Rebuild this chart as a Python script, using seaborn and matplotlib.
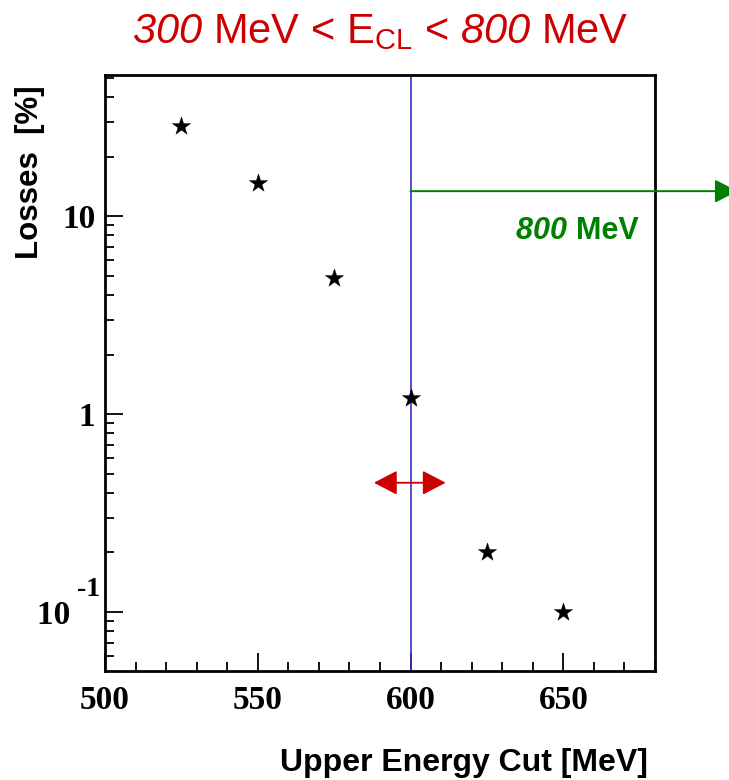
import matplotlib
matplotlib.use("Agg")
import matplotlib.pyplot as plt
from matplotlib.ticker import LogLocator, NullFormatter, FixedLocator, MultipleLocator
import seaborn as sns
import pandas as pd

# Loss fraction versus the upper energy cut
cut_mev = [525, 550, 575, 600, 625, 650]
losses_pct = [28.5, 14.7, 4.85, 1.2, 0.2, 0.1]

chosen_cut = 600
upper_arrow_level = 13.4
window_level = 0.45
window_low, window_high = 588, 611.5
x_ticks = [500, 550, 600, 650]
x_tick_labels = ["500", "550", "600", "650"]
y_ticks = [0.1, 1, 10]
y_tick_labels = ["10   ", "1", "10"]
y_exponent_label = "-1"

sns.set_style("white")
plt.rcParams["font.family"] = ["Liberation Sans", "DejaVu Sans"]
plt.rcParams["mathtext.fontset"] = "custom"
plt.rcParams["mathtext.rm"] = "Liberation Sans"
plt.rcParams["mathtext.sf"] = "Liberation Sans:italic"
for key in ["text.color", "axes.labelcolor", "xtick.color", "ytick.color"]:
    plt.rcParams[key] = "black"

df = pd.DataFrame({"cut": cut_mev, "loss": losses_pct})

fig = plt.figure(figsize=(7.29, 7.8), dpi=100)
ax = fig.add_axes([105 / 729, 1 - 671 / 780, 550 / 729, 596 / 780])

sns.scatterplot(data=df, x="cut", y="loss", marker="*", s=190, color="black",
                edgecolor="black", linewidth=0.3, ax=ax, zorder=3)

ax.set_yscale("log")
ax.set_xlim(500, 680)
ax.set_ylim(0.0503, 51.8)

# chosen cut and the arrows around it
ax.axvline(chosen_cut, color="#3333cc", lw=1.2, zorder=2)
ax.annotate("", xy=(707, upper_arrow_level), xytext=(chosen_cut, upper_arrow_level),
            xycoords="data", annotation_clip=False,
            arrowprops=dict(arrowstyle="-|>,head_length=1.4,head_width=0.72",
                            color="#008000", lw=1.4, shrinkA=0, shrinkB=0))
ax.annotate("", xy=(window_high, window_level), xytext=(window_low, window_level),
            arrowprops=dict(arrowstyle="<|-|>,head_length=1.44,head_width=0.75",
                            color="#cc0000", lw=1.3, shrinkA=0, shrinkB=0))

mev = ax.text(674.6, 8.4, "MeV", color="#008000", fontsize=22, fontweight="bold",
              ha="right", va="center")
ax.annotate("800 ", xy=(0, 0.5), xycoords=mev, color="#008000", fontsize=22,
            fontweight="bold", fontstyle="italic", ha="right", va="center")

# axes styling
for side in ["left", "bottom", "right", "top"]:
    ax.spines[side].set_linewidth(2.0)
    ax.spines[side].set_color("black")

ax.xaxis.set_major_locator(FixedLocator(x_ticks))
ax.set_xticklabels(x_tick_labels)
ax.xaxis.set_minor_locator(MultipleLocator(10))
ax.set_yticks(y_ticks)
ax.set_yticklabels(y_tick_labels)
ax.yaxis.set_minor_locator(LogLocator(base=10, subs=range(2, 10)))
ax.yaxis.set_minor_formatter(NullFormatter())

ax.tick_params(which="both", direction="in", left=True, bottom=True, top=False,
               right=False, width=1.3, color="black")
ax.tick_params(which="major", length=13)
ax.tick_params(which="minor", length=6.5)
ax.tick_params(axis="x", which="major", pad=10)
ax.tick_params(axis="y", which="major", pad=7)
for lab in ax.get_xticklabels() + ax.get_yticklabels():
    lab.set_fontfamily("Liberation Serif")
    lab.set_fontweight("bold")
    lab.set_fontsize(24)

# exponent of the lowest decade label
ax.annotate(y_exponent_label, xy=(0, y_ticks[0]), xycoords=("axes fraction", "data"),
            xytext=(-5, 22), textcoords="offset pixels", ha="right", va="center",
            fontsize=20, fontweight="bold", fontfamily="Liberation Serif")

ax.set_xlabel("")
ax.set_ylabel("")
fig.text(648 / 729, 1 - 771 / 780, "Upper Energy Cut [MeV]", fontsize=23,
         fontweight="bold", ha="right", va="baseline")
fig.text(45 / 729, 1 - 85 / 780, "Losses  [%]", fontsize=22.5, fontweight="bold",
         rotation=90, ha="right", va="top")

fig.text(380 / 729, 1 - 43 / 780,
         r"$\mathsf{300}$ MeV < E$_{\mathrm{CL}}$ < $\mathsf{800}$ MeV",
         color="#cc0000", fontsize=30, ha="center", va="baseline")

fig.savefig("out.png", dpi=100)
